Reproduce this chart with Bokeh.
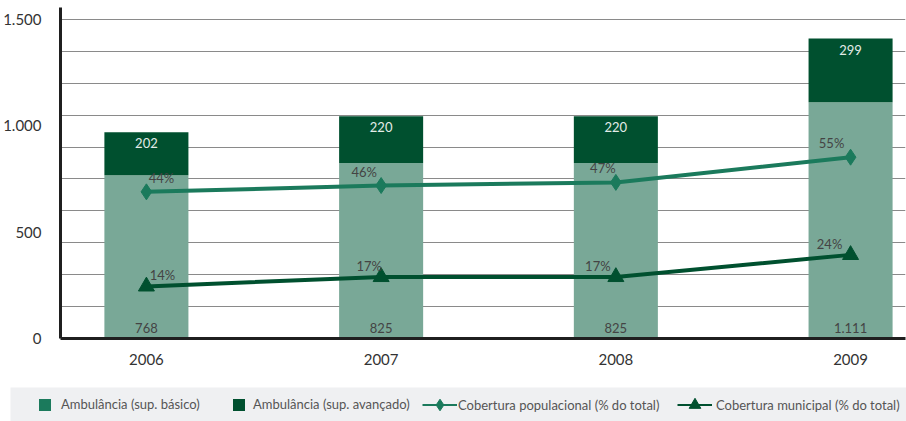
from bokeh.plotting import figure
from bokeh.models import (Range1d, FixedTicker, ColumnDataSource, Legend, LegendItem)
from bokeh.layouts import column
from bokeh.core.properties import value
from bokeh.embed import file_html
from bokeh.resources import INLINE

# ---- data ----
years = [2006, 2007, 2008, 2009]
year_labels = ["2006", "2007", "2008", "2009"]
basico = [768, 825, 825, 1111]
avancado = [202, 220, 220, 299]
cob_pop = [44, 46, 47, 55]
cob_mun = [14, 17, 17, 24]
y_ticks = [0, 500, 1000, 1500]
y_tick_labels = ["0", "500", "1.000", "1.500"]
grid_values = [150, 300, 450, 600, 750, 900, 1050, 1200, 1350, 1500]
series_names = ["Ambulância (sup. básico)", "Ambulância (sup. avançado)",
                "Cobertura populacional (% do total)", "Cobertura municipal (% do total)"]

FONT = "Lato"
C_BAS_BAR = "#79a897"
C_BAS_LEG = "#1b7a5c"
C_AVA = "#00502f"
C_POP = "#1b7a5c"
C_MUN = "#00502f"

def fmt(v):
    return f"{v:,}".replace(",", ".")

src = ColumnDataSource(dict(
    x=years, bas=basico, ava=avancado, total=[b + a for b, a in zip(basico, avancado)],
    bas_lbl=[fmt(v) for v in basico], ava_lbl=[fmt(v) for v in avancado],
    pop=cob_pop, mun=cob_mun,
    pop_lbl=[f"{v}%" for v in cob_pop], mun_lbl=[f"{v}%" for v in cob_mun],
    pop_dx=[15, -17, -13, -19], mun_dx=[16, -12, -18, -21],
))

p = figure(width=906, height=387, output_backend="svg", toolbar_location=None,
           x_range=Range1d(2005.634, 2009.234), y_range=Range1d(0, 1556),
           min_border_left=60, min_border_right=1, min_border_top=7, min_border_bottom=49,
           frame_align=False)
p.extra_y_ranges = {"pct": Range1d(-2.54, 102.5)}
p.outline_line_color = None
p.background_fill_color = "white"
p.border_fill_color = "white"

# bars
p.vbar(x="x", bottom=0, top="bas", width=0.358, source=src, fill_color=C_BAS_BAR, line_color=None)
p.vbar(x="x", bottom="bas", top="total", width=0.358, source=src, fill_color=C_AVA, line_color=None)

p.text(x="x", y=0, text="bas_lbl", source=src, text_align="center", text_baseline="bottom",
       y_offset=-6, text_font=value(FONT), text_font_size="13px", text_color="#444444")
p.text(x="x", y="total", text="ava_lbl", source=src, text_align="center", text_baseline="top",
       y_offset=6, text_font=value(FONT), text_font_size="13px", text_color="#e3ece8")

# lines
p.line(x="x", y="pop", source=src, y_range_name="pct", line_color=C_POP, line_width=4)
p.scatter(x="x", y="pop", source=src, y_range_name="pct", marker="diamond", size=16,
          fill_color=C_POP, line_color=C_POP)
p.line(x="x", y="mun", source=src, y_range_name="pct", line_color=C_MUN, line_width=4)
p.scatter(x="x", y="mun", source=src, y_range_name="pct", marker="triangle", size=16,
          fill_color=C_MUN, line_color=C_MUN)

p.text(x="x", y="pop", text="pop_lbl", source=src, y_range_name="pct", x_offset="pop_dx",
       y_offset=-14, text_align="center", text_baseline="middle",
       text_font=value(FONT), text_font_size="13px", text_color="#444444")
p.text(x="x", y="mun", text="mun_lbl", source=src, y_range_name="pct", x_offset="mun_dx",
       y_offset=-11, text_align="center", text_baseline="middle",
       text_font=value(FONT), text_font_size="13px", text_color="#444444")

# axes
p.xaxis.ticker = FixedTicker(ticks=years)
p.xaxis.major_label_overrides = {y: l for y, l in zip(years, year_labels)}
p.yaxis.ticker = FixedTicker(ticks=y_ticks)
p.yaxis.major_label_overrides = {t: l for t, l in zip(y_ticks, y_tick_labels)}
for ax in (p.xaxis, p.yaxis):
    ax.axis_line_color = "#1f1f1f"
    ax.axis_line_width = 3
    ax.major_tick_line_color = None
    ax.minor_tick_line_color = None
    ax.major_label_text_font = FONT
    ax.major_label_text_font_size = "15px"
    ax.major_label_text_color = "#333333"
p.xaxis.major_label_standoff = 9
p.yaxis.major_label_standoff = 13
p.xgrid.grid_line_color = None
p.ygrid.ticker = FixedTicker(ticks=grid_values)
p.ygrid.grid_line_color = "#8a8a8a"
p.ygrid.grid_line_width = 1
p.ygrid.level = "underlay"

# ---- legend band ----
leg = figure(width=906, height=34, output_backend="svg", toolbar_location=None,
             x_range=Range1d(0, 1), y_range=Range1d(0, 1),
             min_border_left=10, min_border_right=0, min_border_top=0, min_border_bottom=0,
             frame_align=False)
leg.axis.visible = False
leg.grid.visible = False
leg.outline_line_color = None
leg.background_fill_color = "#eff0f2"
leg.border_fill_color = "white"

# off-screen placeholder glyphs, only used to draw the legend symbols
dummy = ColumnDataSource(dict(x=[-10], y=[-10], top=[-10]))
r1 = leg.vbar(x="x", top="top", width=1, source=dummy, fill_color=C_BAS_LEG, line_color=None)
r2 = leg.vbar(x="x", top="top", width=1, source=dummy, fill_color=C_AVA, line_color=None)
r3a = leg.line(x="x", y="y", source=dummy, line_color=C_POP, line_width=2)
r3b = leg.scatter(x="x", y="y", source=dummy, marker="diamond", size=12, fill_color=C_POP, line_color=C_POP)
r4a = leg.line(x="x", y="y", source=dummy, line_color=C_MUN, line_width=2)
r4b = leg.scatter(x="x", y="y", source=dummy, marker="triangle", size=11, fill_color=C_MUN, line_color=C_MUN)

specs = [
    (series_names[0], [r1], (27, 9), 15, 15, 9),
    (series_names[1], [r2], (221, 9), 15, 15, 7),
    (series_names[2], [r3a, r3b], (412, 2), 35, 29, 1),
    (series_names[3], [r4a, r4b], (667, 2), 35, 29, 4),
]
for label, rends, loc, gw, gh, standoff in specs:
    lg = Legend(items=[LegendItem(label=label, renderers=rends)], location=loc,
                orientation="horizontal", padding=0, margin=0, spacing=0,
                glyph_width=gw, glyph_height=gh, label_height=gh, label_standoff=standoff,
                label_text_font=FONT, label_text_font_size="13px", label_text_color="#555555",
                background_fill_alpha=0, border_line_color=None)
    leg.add_layout(lg, "center")

layout = column(p, leg, spacing=0)
open("out.html", "w").write(file_html(layout, INLINE))
